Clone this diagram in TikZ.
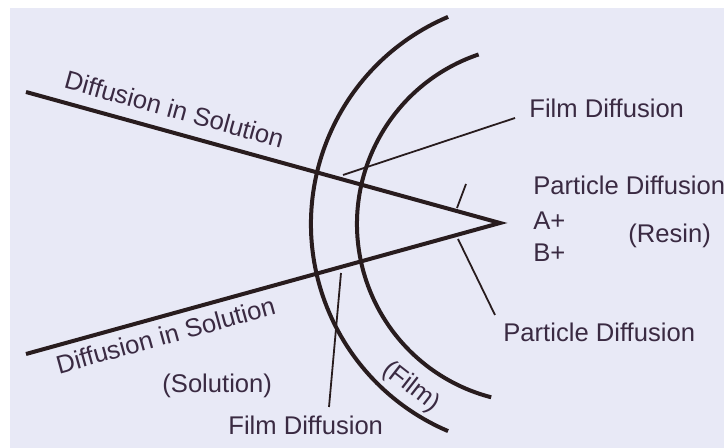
\documentclass[tikz,border=0pt]{standalone}
\usepackage{fontspec}
\setmainfont{Liberation Sans}
\usetikzlibrary{positioning}
\usepackage{xcolor}
\definecolor{paper}{RGB}{232,233,246}
\definecolor{ink}{RGB}{40,28,30}
\definecolor{script}{RGB}{58,42,66}
\tikzset{
  route/.style = {draw=ink, line width=2pt, line join=miter},
  shell/.style = {draw=ink, line width=2pt},
  leader/.style = {draw=ink, line width=0.9pt},
  tag/.style = {font=\fontsize{12.8}{15}\selectfont, text=script, inner sep=0pt}
}
\begin{document}
\begin{tikzpicture}[x=0.5pt, y=0.5pt]

\fill[white] (0,0) rectangle (724,448);
\fill[paper] (10,0) rectangle (724,440);
\useasboundingbox (0,0) rectangle (724,448);

\coordinate (apex) at (500,225);
\coordinate (solup) at (26,356);
\coordinate (soldown) at (26,94);
\coordinate (ctr) at (536,224);

% solution paths meeting at the resin
\draw[route] (solup) -- (apex) -- (soldown);

% film boundaries
\draw[shell] (ctr) ++(113:225) arc[start angle=113, end angle=247, radius=225];
\draw[shell] (ctr) ++(108.7:179) arc[start angle=108.7, end angle=255.5, radius=179];

% labels
\node[tag, anchor=base, rotate=-15.45] (dsup) at (172,330) {Diffusion in Solution};
\node[tag, anchor=base, rotate=15.45] (dsdown) at (168,104) {Diffusion in Solution};
\node[tag, anchor=base west] (solution) at (162,55) {(Solution)};
\node[tag, rotate=-38] (film) at (411,61) {(Film)};
\node[tag, anchor=base west] (fdup) at (529,330) {Film Diffusion};
\node[tag, anchor=base west] (fddown) at (228,13) {Film Diffusion};
\node[tag, anchor=base west] (pdup) at (533,253) {Particle Diffusion};
\node[tag, anchor=base west, below=17.5pt of pdup.base west, anchor=base west] (aplus) {A+};
\node[tag, anchor=base west, below=16pt of aplus.base west, anchor=base west] (bplus) {B+};
\node[tag, anchor=base west] (resin) at (628,205) {(Resin)};
\node[tag, anchor=base west] (pddown) at (503,106) {Particle Diffusion};

% leaders
\coordinate (fa) at (343,273);
\coordinate (fb) at (515,330);
\coordinate (fc) at (341,175);
\coordinate (fd) at (329,41);
\coordinate (pa) at (457,240);
\coordinate (pb) at (466,264);
\coordinate (pc) at (458,209);
\coordinate (pe) at (495,133);
\draw[leader] (fa) -- (fb);
\draw[leader] (fc) -- (fd);
\draw[leader] (pa) -- (pb);
\draw[leader] (pc) -- (pe);
\end{tikzpicture}
\end{document}
